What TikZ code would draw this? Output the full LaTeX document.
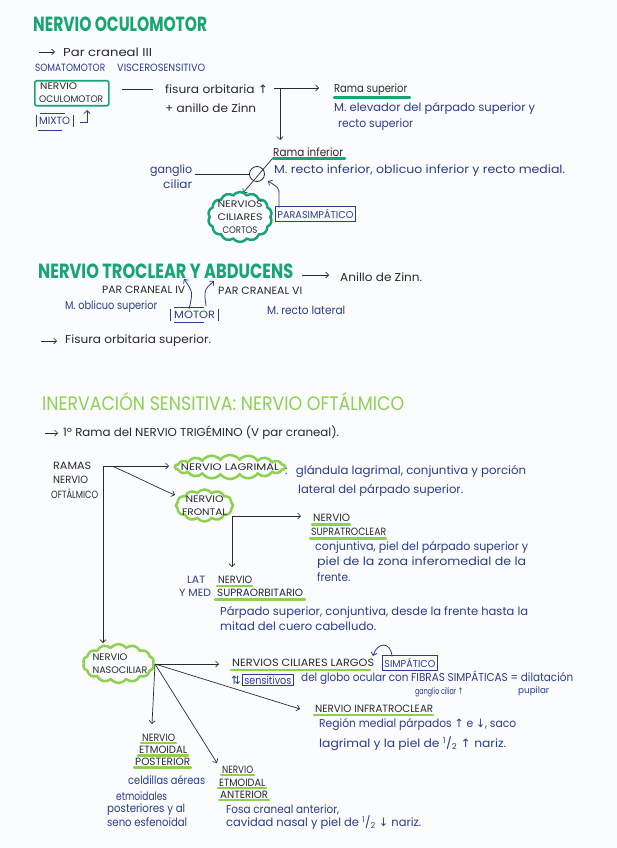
\documentclass[tikz,border=0pt]{standalone}
\usepackage{fontspec}
\setmainfont{Poppins}
\newfontfamily\symf{DejaVu Sans}
\usetikzlibrary{arrows.meta,shapes.symbols}
\definecolor{hgreen}{HTML}{17A673}
\definecolor{lgreen}{HTML}{8ED150}
\definecolor{ink}{HTML}{2B3C8E}
\definecolor{pen}{HTML}{2A2A2A}
\definecolor{paper}{HTML}{FBFCFD}
\newcommand\fitw[2]{\resizebox{#1pt}{\height}{#2}}
\newcommand\uarr{{\symf ↑}}
\newcommand\darr{{\symf ↓}}
\newcommand\udarr{{\symf ⇅}}
\begin{document}
\begin{tikzpicture}[x=1pt,y=-1pt,
  lbl/.style={inner sep=0pt, anchor=west, text=pen},
  body/.style={lbl, font=\fontsize{11.5}{13}\selectfont},
  small/.style={lbl, font=\fontsize{9}{11}\selectfont},
  caps/.style={lbl, font=\fontsize{10.5}{12}\selectfont},
  inked/.style={text=ink},
  hd/.style={lbl, font=\fontsize{20.5}{22}\selectfont\bfseries},
  hdl/.style={lbl, font=\fontsize{19.5}{21}\selectfont},
  arr/.style={draw=pen, line width=0.7pt, -{Straight Barb[length=3pt,width=6pt]}},
  iarr/.style={draw=ink, line width=0.8pt, -{Straight Barb[length=3pt,width=6pt]}},
  pline/.style={draw=pen, line width=0.7pt},
  iline/.style={draw=ink, line width=0.9pt},
  gul/.style={draw=hgreen, line width=2.2pt, line cap=round},
  lul/.style={draw=lgreen, line width=2.2pt, line cap=round},
  pbox/.style={draw=ink, line width=0.8pt, inner xsep=2pt, inner ysep=2.5pt, anchor=west, text=ink},
  cloudtext/.style={inner sep=0pt, align=center, text=pen, font=\fontsize{9.5}{13}\selectfont},
  puffy/.style={cloud, draw=#1, line width=2.5pt, inner sep=0pt, cloud puff arc=105, cloud ignores aspect}
]
\fill[paper] (0,0) rectangle (617,848);
\path[use as bounding box] (0,0) rectangle (617,848);

% ---------------- NERVIO OCULOMOTOR ----------------
\node[hd, text=hgreen] (h1) at (33,24) {\fitw{174}{NERVIO OCULOMOTOR}};
\coordinate (a1) at (39,52);
\node[body] (par3) at (63,52) {\fitw{89}{Par craneal III}};
\draw[arr, shorten >=8pt] (a1) -- (par3.west);
\node[caps, inked] (soma) at (35,68) {\fitw{70}{SOMATOMOTOR}};
\node[caps, inked] (visc) at (117,68) {\fitw{88}{VISCEROSENSITIVO}};

\node[draw=hgreen, line width=1.6pt, rounded corners=2pt, minimum width=74pt,
      minimum height=25pt, anchor=north west, inner sep=0pt] (ocbox) at (34,80) {};
\node[caps, font=\fontsize{9.5}{11}\selectfont] (oc1) at (40,86.5) {\fitw{37}{NERVIO}};
\node[caps, font=\fontsize{9.5}{11}\selectfont] (oc2) at (39,99) {\fitw{64}{OCULOMOTOR}};

\node[caps, inked] (mixto) at (39,121) {\fitw{31}{MIXTO}};
\draw[iline] (36,115) -- (36,127) (73,115) -- (73,127);
\draw[iline] (40,113) -- (65,113) (38,130) -- (62,130);
\coordinate (mx1) at (80,122); \coordinate (mx2) at (87,122); \coordinate (mx3) at (87,110);
\draw[iarr] (mx1) -- (mx2) -- (mx3);

\coordinate (ocR) at (122,89); \coordinate (fisL) at (153,89);
\draw[pline] (ocR) -- (fisL);
\node[body] (fis) at (165,89) {\fitw{103}{fisura orbitaria \uarr}};
\node[body] (zinn) at (165,108) {\fitw{91}{+ anillo de Zinn}};

\coordinate (c1) at (274,88); \coordinate (c1e) at (319,88);
\coordinate (c2) at (280,88); \coordinate (c2e) at (280,140);
\draw[arr] (c1) -- (c1e);
\draw[arr] (c2) -- (c2e);
\node[body] (rsup) at (334,90) {\fitw{73}{Rama superior}};
\draw[gul] (334,97.5) -- (410,97.5);
\node[body, inked] (msup1) at (334,108) {\fitw{201}{M. elevador del párpado superior y}};
\node[body, inked] (msup2) at (338,125) {\fitw{75}{recto superior}};

\node[body] (rinf) at (273,152) {\fitw{70}{Rama inferior}};
\draw[gul] (273,158.5) -- (345,158.5);
\node[body, inked] (minf) at (274,171) {\fitw{291}{M. recto inferior, oblicuo inferior y recto medial.}};

\node[circle, draw=pen, line width=0.8pt, minimum size=15pt, inner sep=0pt] (gang) at (257,174) {};
\node[body, inked] (gl1) at (150,171) {\fitw{42}{ganglio}};
\node[body, inked] (gl2) at (163,184) {\fitw{29}{ciliar}};
\coordinate (glR) at (195,174);
\draw[pline] (glR) -- (gang.west);
\coordinate (d1) at (272,159); \coordinate (d2) at (243,193);
\draw[arr] (d1) -- (d2);

\node[puffy=hgreen, cloud puffs=14, minimum width=64pt, minimum height=50pt] (cortosC) at (240,217) {};
\node[cloudtext] (cortos) at (240,217)
  {\fitw{45}{NERVIOS}\\\fitw{45}{CILIARES}\\\fitw{35}{CORTOS}};
\node[pbox, font=\fontsize{10}{12}\selectfont] (para) at (275,214) {\fitw{76}{PARASIMPÁTICO}};
\coordinate (p1) at (279,207.5); \coordinate (p2) at (279,195); \coordinate (p3) at (268,181);
\draw[iarr] (p1) -- (p2) .. controls (279,188) .. (p3);

% ---------------- TROCLEAR Y ABDUCENS ----------------
\node[hd, text=hgreen] (h2) at (38,271) {\fitw{255}{NERVIO TROCLEAR Y ABDUCENS}};
\node[body] (zinn2) at (340,277) {\fitw{82}{Anillo de Zinn.}};
\coordinate (z2a) at (302,275); \coordinate (z2b) at (329,275);
\draw[arr] (z2a) -- (z2b);
\node[caps] (pc4) at (102,290) {\fitw{83}{PAR CRANEAL IV}};
\node[caps] (pc6) at (218,291) {\fitw{84}{PAR CRANEAL VI}};
\coordinate (t1) at (189,309); \coordinate (t2) at (184,279);
\coordinate (t3) at (206,306); \coordinate (t4) at (214,281);
\draw[iarr] (t1) .. controls (193,292) .. (t2);
\draw[iarr] (t3) .. controls (204,290) .. (t4);
\node[body, inked] (obl) at (65,307) {\fitw{92}{M. oblicuo superior}};
\node[caps, inked] (motor) at (174,315) {\fitw{41}{MOTOR}};
\draw[iline] (170,309) -- (170,321) (218,309) -- (218,321);
\draw[iline] (174,307.5) -- (204,307.5) (174,322.5) -- (204,322.5);
\node[body, inked] (rlat) at (267,310) {\fitw{78}{M. recto lateral}};
\coordinate (f1) at (41,341);
\node[body] (fos) at (65,341) {\fitw{146}{Fisura orbitaria superior.}};
\draw[arr, shorten >=8pt] (f1) -- (fos.west);

% ---------------- INERVACION SENSITIVA ----------------
\node[hdl, text=lgreen] (h3) at (42,402) {\fitw{362}{INERVACIÓN SENSITIVA: NERVIO OFTÁLMICO}};
\coordinate (tr1) at (45,433);
\node[body] (trig) at (63,433) {\fitw{276}{1º Rama del NERVIO TRIGÉMINO (V par craneal).}};
\draw[arr, shorten >=5pt] (tr1) -- (trig.west);

\node[caps] (ram1) at (53,466) {\fitw{38}{RAMAS}};
\node[caps] (ram2) at (53,480) {\fitw{35}{NERVIO}};
\node[caps] (ram3) at (51,494) {\fitw{47}{OFTÁLMICO}};

\node[puffy=lgreen, cloud puffs=18, minimum width=110pt, minimum height=24pt] (lagC) at (230,467) {};
\node[cloudtext] (lag) at (230,467) {\fitw{98}{NERVIO LAGRIMAL}};
\node[puffy=lgreen, cloud puffs=12, minimum width=57pt, minimum height=32pt] (frontC) at (204.5,505.5) {};
\node[cloudtext] (front) at (204.5,506) {\fitw{38}{NERVIO}\\\fitw{45}{FRONTAL}};
\node[puffy=lgreen, cloud puffs=14, minimum width=71pt, minimum height=39pt] (nasoC) at (118.5,663.5) {};
\node[cloudtext, align=left] (naso) at (120,663.5) {\fitw{35}{NERVIO}\\\fitw{55}{NASOCILIAR}};

\coordinate (rj) at (103,466); \coordinate (rj2) at (114,467);
\coordinate (lagIn) at (169,466); \coordinate (frIn) at (175,495); \coordinate (naIn) at (103,643);
\draw[arr] (rj) -- (lagIn);
\draw[arr] (rj2) .. controls (135,476) and (158,488) .. (frIn);
\draw[arr] (rj) -- (naIn);

\node[body, inked] (lag1) at (285,472) {\fitw{241}{:\hspace{8pt}glándula lagrimal, conjuntiva y porción}};
\node[body, inked] (lag2) at (298,490) {\fitw{165}{lateral del párpado superior.}};

\coordinate (fj) at (232,516); \coordinate (fjR) at (301,516); \coordinate (fjD) at (232,567);
\draw[arr] (fj) -- (fjR);
\draw[arr] (fj) -- (fjD);
\node[caps] (st1) at (313,518) {\fitw{37}{NERVIO}};
\draw[lul] (312,524.5) -- (350,524.5);
\node[caps] (st2) at (311,532) {\fitw{75}{SUPRATROCLEAR}};
\draw[lul] (310,538.5) -- (386,538.5);
\node[body, inked] (st3) at (315,547) {\fitw{213}{conjuntiva, piel del párpado superior y}};
\node[body, inked] (st4) at (317,563) {\fitw{209}{piel de la zona inferomedial de la}};
\node[body, inked] (st5) at (317,577) {\fitw{33}{frente.}};

\node[caps, inked] (lat) at (187,580) {\fitw{18}{LAT}};
\node[caps, inked] (med) at (179,593) {\fitw{32}{Y MED}};
\node[caps] (so1) at (218,580) {\fitw{34}{NERVIO}};
\draw[lul] (217,586) -- (252,586);
\node[caps] (so2) at (217,593) {\fitw{86}{SUPRAORBITARIO}};
\draw[lul] (215,599.5) -- (305,599.5);
\node[body, inked] (so3) at (220,612) {\fitw{308}{Párpado superior, conjuntiva, desde la frente hasta la}};
\node[body, inked] (so4) at (220,626) {\fitw{156}{mitad del cuero cabelludo.}};

% nasociliar branches
\coordinate (nj) at (155,664);
\coordinate (nLarg) at (219,664); \coordinate (nInf) at (300,709);
\coordinate (nPost) at (152,724); \coordinate (nAnt) at (217,763);
\draw[arr] (nj) -- (nLarg);
\draw[arr] (nj) -- (nInf);
\draw[arr] (nj) -- (nPost);
\draw[arr] (nj) -- (nAnt);

\node[caps] (lcl) at (232,663) {\fitw{142}{NERVIOS CILIARES LARGOS}};
\draw[lul] (231,670) -- (370,670);
\node[pbox, font=\fontsize{10}{12}\selectfont] (simp) at (382,663) {\fitw{51}{SIMPÁTICO}};
\coordinate (s1) at (392,656.5); \coordinate (s2) at (373,656);
\draw[iarr] (s1) .. controls (391,641) and (377,642) .. (s2);
\node[body, inked] (ud) at (231,680) {\udarr};
\node[pbox, font=\fontsize{11}{13}\selectfont, inner ysep=1.5pt] (sens) at (242,680) {\fitw{47}{sensitivos}};
\node[body, inked] (glob) at (301,678) {\fitw{272}{del globo ocular con FIBRAS SIMPÁTICAS = dilatación}};
\node[small, inked] (gc) at (415,692) {\fitw{48}{ganglio ciliar \uarr}};
\node[small, inked] (pup) at (518,691) {\fitw{31}{pupilar}};

\node[caps] (inf) at (315,709) {\fitw{118}{NERVIO INFRATROCLEAR}};
\draw[lul] (314,715) -- (433,715);
\node[body, inked] (inf1) at (319,725) {\fitw{197}{Región medial párpados \uarr{} e \darr, saco}};
\node[body, inked] (inf2) at (319,744) {\fitw{187}{lagrimal y la piel de \textsuperscript{1}/\textsubscript{2} \uarr{} nariz.}};

\node[caps] (ep1) at (142,738) {\fitw{33}{NERVIO}};
\draw[lul] (141,743) -- (176,743);
\node[caps] (ep2) at (139,750) {\fitw{48}{ETMOIDAL}};
\draw[lul] (138,755.5) -- (188,755.5);
\node[caps] (ep3) at (135,762) {\fitw{55}{POSTERIOR}};
\draw[lul] (134,767.5) -- (191,767.5);
\node[body, inked] (ep4) at (128,780) {\fitw{77}{celdillas aéreas}};
\node[body, inked] (ep5) at (116,796) {\fitw{51}{etmoidales}};
\node[body, inked] (ep6) at (107,810) {\fitw{78}{posteriores y al}};
\node[body, inked] (ep7) at (107,822.5) {\fitw{80}{seno esfenoidal}};

\node[caps] (ea1) at (222,770) {\fitw{31}{NERVIO}};
\draw[lul] (221,775) -- (254,775);
\node[caps] (ea2) at (219,783) {\fitw{46}{ETMOIDAL}};
\draw[lul] (218,788) -- (266,788);
\node[caps] (ea3) at (220,795) {\fitw{48}{ANTERIOR}};
\draw[lul] (219,800) -- (269,800);
\node[body, inked] (ea4) at (226,810) {\fitw{113}{Fosa craneal anterior,}};
\node[body, inked] (ea5) at (226,822.5) {\fitw{195}{cavidad nasal y piel de \textsuperscript{1}/\textsubscript{2} \darr{} nariz.}};
\end{tikzpicture}
\end{document}
